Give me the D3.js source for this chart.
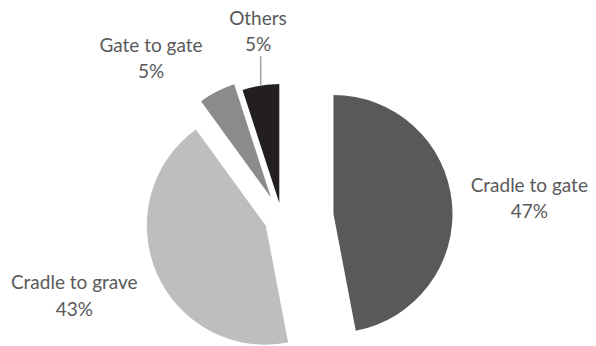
<!DOCTYPE html>
<html>
<head>
<meta charset="utf-8">
<script src="https://cdn.jsdelivr.net/npm/d3@7"></script>
<style>
  html, body { margin: 0; padding: 0; background: #ffffff; }
  svg { display: block; }
</style>
</head>
<body>
<svg id="chart" width="596" height="346"></svg>
<script>
// Share of system boundaries
const categories = ["Cradle to gate", "Cradle to grave", "Gate to gate", "Others"];
const shares = [47, 43, 5, 5];
const percentLabels = ["47%", "43%", "5%", "5%"];

// Styling and layout
const sliceColors = ["#595959", "#bcbec0", "#8a8b8d", "#231f20"];
const textColor = "#595959";
const leaderColor = "#a6a6a6";
const pieCenter = { x: 281.8, y: 218.8 };
const radius = 119;
const explode = [51.9, 17.4, 23.9, 15.9];          // per-slice pull-out distance
const labelAnchors = [[529.3, 191.7], [74.3, 289.3], [151, 51.5], [258, 24.5]];
const lineGap = 26.7;
const leaderFor = ["Others"];

const svg = d3.select("#chart");

const pie = d3.pie().sort(null).value(d => d.value).startAngle(0).endAngle(2 * Math.PI);
const arc = d3.arc().innerRadius(0).outerRadius(radius);

const slices = pie(categories.map((c, i) => ({ name: c, value: shares[i], pct: percentLabels[i], i })));

// offset of each slice apex along its bisector
function apex(d) {
  const mid = (d.startAngle + d.endAngle) / 2;
  const dist = explode[d.data.i];
  return [pieCenter.x + dist * Math.sin(mid), pieCenter.y - dist * Math.cos(mid)];
}

const g = svg.append("g");

g.selectAll("path.slice")
  .data(slices)
  .join("path")
  .attr("class", "slice")
  .attr("transform", d => { const p = apex(d); return `translate(${p[0]},${p[1]})`; })
  .attr("d", arc)
  .attr("fill", d => sliceColors[d.data.i]);

// leader lines from slice rim up to the label
slices.filter(d => leaderFor.includes(d.data.name)).forEach(d => {
  const p = apex(d);
  const mid = (d.startAngle + d.endAngle) / 2;
  const x = p[0] + radius * Math.sin(mid);
  const y = p[1] - radius * Math.cos(mid);
  const lab = labelAnchors[d.data.i];
  g.append("line")
    .attr("x1", x).attr("y1", y)
    .attr("x2", x).attr("y2", lab[1] + lineGap + 5)
    .attr("stroke", leaderColor)
    .attr("stroke-width", 1.6);
});

// two-line data labels: category name and percentage
const labels = g.selectAll("text.label")
  .data(slices)
  .join("text")
  .attr("class", "label")
  .attr("text-anchor", "middle")
  .attr("font-family", "Lato, 'Open Sans', sans-serif")
  .attr("font-size", 19)
  .attr("fill", textColor);

labels.append("tspan")
  .attr("x", d => labelAnchors[d.data.i][0])
  .attr("y", d => labelAnchors[d.data.i][1])
  .text(d => d.data.name);

labels.append("tspan")
  .attr("x", d => labelAnchors[d.data.i][0])
  .attr("y", d => labelAnchors[d.data.i][1] + lineGap)
  .text(d => d.data.pct);
</script>
</body>
</html>
